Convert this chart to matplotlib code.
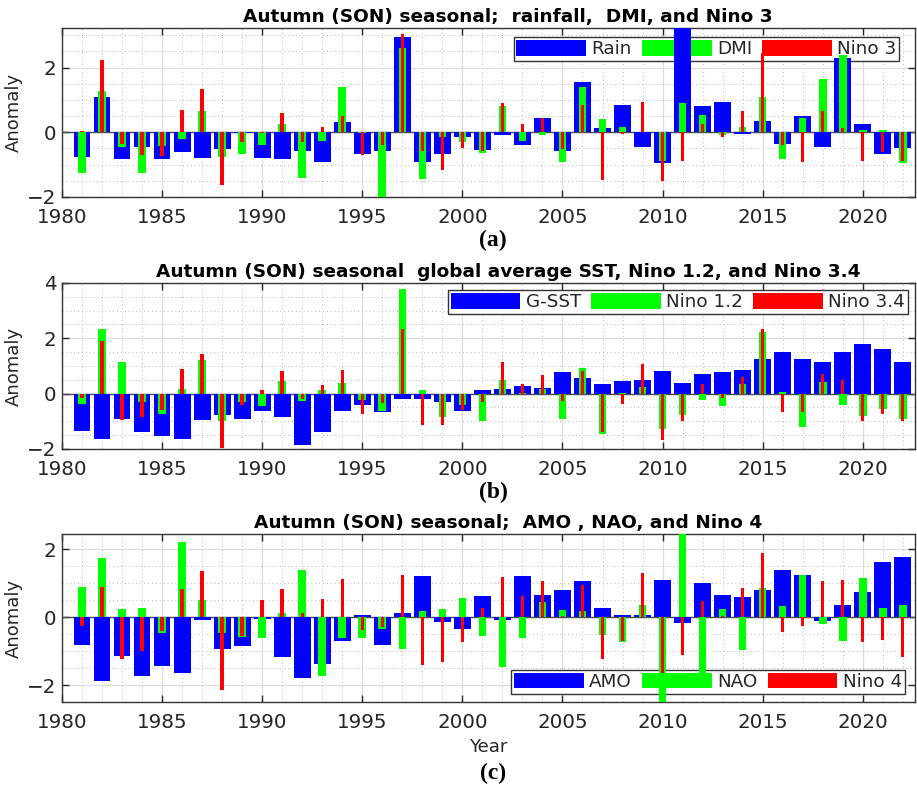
import matplotlib

matplotlib.use("Agg")
import matplotlib.pyplot as plt
from matplotlib.ticker import MultipleLocator

years = list(range(1981, 2023))

# panel (a)
rain = [-0.76, 1.09, -0.84, -0.47, -0.84, -0.60, -0.80, -0.52, -0.02, -0.80,
        -0.84, -0.57, -0.92, 0.33, -0.68, -0.57, 2.95, -0.92, -0.66, -0.16,
        -0.54, -0.08, -0.39, 0.44, -0.57, 1.55, 0.13, 0.85, -0.47, -0.96,
        3.50, 0.81, 0.93, -0.05, 0.36, -0.36, 0.50, -0.45, 2.29, 0.26,
        -0.68, -0.49]
dmi = [-1.25, 1.28, -0.45, -1.27, -0.43, -0.21, 0.65, -0.78, -0.68, -0.39,
       0.26, -1.41, -0.26, 1.41, -0.03, -2.10, 2.60, -1.44, -0.16, -0.31,
       -0.63, 0.81, -0.26, -0.07, -0.92, 1.41, 0.41, 0.16, 0.02, -0.89,
       0.89, 0.54, -0.10, 0.16, 1.09, -0.84, 0.44, 1.66, 2.38, 0.08,
       0.08, -0.94]
nino3 = [0.05, 2.24, -0.36, -0.71, -0.73, 0.68, 1.34, -1.64, -0.31, -0.03,
         0.61, -0.31, 0.16, 0.51, -0.71, -0.39, 3.02, -0.59, -1.17, -0.49,
         -0.57, 0.89, 0.26, 0.44, -0.52, 0.85, -1.48, -0.05, 0.93, -1.51,
         -0.89, 0.24, -0.16, 0.65, 2.45, -0.39, -0.92, 0.65, 0.13, -0.89,
         -0.60, -0.89]

# panel (b)
gsst = [-1.36, -1.64, -0.92, -1.40, -1.52, -1.64, -0.96, -0.79, -0.92, -0.64,
        -0.84, -1.84, -1.40, -0.64, -0.40, -0.67, -0.18, -0.18, -0.30, -0.64,
        0.12, 0.18, 0.26, 0.22, 0.77, 0.56, 0.36, 0.44, 0.48, 0.80,
        0.40, 0.72, 0.77, 0.84, 1.25, 1.49, 1.25, 1.13, 1.52, 1.80,
        1.61, 1.16]
nino12 = [-0.38, 2.33, 1.16, -0.30, -0.74, 0.16, 1.20, -1.00, -0.30, -0.46,
          0.44, -0.26, 0.12, 0.40, -0.24, -0.64, 3.77, 0.12, -0.84, -0.42,
          -1.00, 0.48, 0.03, 0.18, -0.91, 0.92, -1.46, 0.04, 0.24, -1.26,
          -0.76, -0.24, -0.43, 0.36, 2.21, 0.06, -1.20, 0.41, -0.40, -0.80,
          -0.56, -0.92]
nino34 = [-0.14, 1.90, -0.96, -0.84, -0.60, 0.89, 1.44, -1.96, -0.40, 0.12,
          0.80, -0.18, 0.32, 0.84, -0.74, -0.34, 2.33, -1.14, -1.14, -0.58,
          -0.30, 1.16, 0.36, 0.68, -0.26, 0.80, -1.38, -0.36, 1.08, -1.68,
          -1.00, 0.36, -0.16, 0.60, 2.33, -0.68, -0.68, 0.72, 0.48, -1.00,
          -0.74, -1.00]

# panel (c)
amo = [-0.83, -1.89, -1.13, -1.72, -1.45, -1.65, -0.08, -0.93, -0.86, -0.05,
       -1.16, -1.79, -1.38, -0.70, 0.07, -0.83, 0.12, 1.22, -0.15, -0.34,
       0.63, -0.08, 1.22, 0.66, 0.80, 1.06, 0.26, 0.07, 0.07, 1.09,
       -0.18, 1.00, 0.66, 0.59, 0.80, 1.39, 1.25, -0.11, 0.36, 0.73,
       1.62, 1.77]
nao = [0.88, 1.74, 0.25, 0.26, -0.47, 2.21, 0.51, -0.47, -0.59, -0.60,
       0.12, 1.39, -1.72, -0.60, -0.60, -0.34, -0.93, 0.17, 0.25, 0.56,
       -0.57, -1.48, -0.60, 0.46, 0.20, 0.17, -0.54, -0.74, 0.36, -2.60,
       2.60, -1.70, 0.24, -0.96, 0.85, 0.33, 1.25, -0.21, -0.70, 1.16,
       0.26, 0.36]
nino4 = [-0.25, 0.88, -1.23, -0.99, -0.40, 0.82, 1.35, -2.16, -0.55, 0.51,
         0.82, 0.12, 0.53, 1.13, -0.37, -0.30, 1.25, -1.42, -1.32, -0.74,
         0.28, 1.17, 0.63, 1.06, 0.04, 0.95, -1.23, -0.70, 1.31, -1.65,
         -1.11, 0.48, 0.04, 0.85, 1.88, -0.44, -0.25, 1.06, 1.10, -0.74,
         -0.67, -1.16]

panels = [
    ("Autumn (SON) seasonal;  rainfall,  DMI, and Nino 3",
     [rain, dmi, nino3], ["Rain", "DMI", "Nino 3"], (-2, 3.22), 2, "(a)"),
    ("Autumn (SON) seasonal  global average SST, Nino 1.2, and Nino 3.4",
     [gsst, nino12, nino34], ["G-SST", "Nino 1.2", "Nino 3.4"], (-2, 4), 2, "(b)"),
    ("Autumn (SON) seasonal;  AMO , NAO, and Nino 4",
     [amo, nao, nino4], ["AMO", "NAO", "Nino 4"], (-2.5, 2.45), 2, "(c)"),
]

colors = ["#0000ff", "#00ff00", "#ff0000"]
widths = [0.84, 0.38, 0.17]
axes_rects = [
    [0.0676, 0.7497, 0.930, 0.2147],
    [0.0676, 0.4295, 0.930, 0.2110],
    [0.0676, 0.1080, 0.930, 0.2135],
]
legend_anchor = [(0.982, 0.945, "upper right"),
                 (0.992, 0.955, "upper right"),
                 (0.988, 0.05, "lower right")]
label_y = [240, 492, 773]

fig = plt.figure(figsize=(9.17, 7.87), dpi=100)
tick_color = "#262626"

for i, (title, series, names, ylim, ystep, tag) in enumerate(panels):
    ax = fig.add_axes(axes_rects[i])
    ax.set_axisbelow(True)
    handles = []
    for k, values in enumerate(series):
        h = ax.bar(years, values, width=widths[k], color=colors[k],
                   zorder=3 + k, linewidth=0)
        handles.append(h)
    ax.axhline(0, color="#4d4d4d", lw=1.0, zorder=2.8)

    ax.set_xlim(1980, 2022.6)
    ax.set_ylim(*ylim)
    ax.xaxis.set_major_locator(MultipleLocator(5))
    ax.xaxis.set_minor_locator(MultipleLocator(1))
    ax.yaxis.set_major_locator(MultipleLocator(ystep))
    ax.yaxis.set_minor_locator(MultipleLocator(0.5))
    ax.grid(which="major", color="#dcdcdc", lw=0.9, ls="-")
    ax.grid(which="minor", color="#b5b5b5", lw=0.7, ls=(0, (1, 3)))
    ax.tick_params(which="major", direction="in", top=True, right=True,
                   length=5, width=1, colors=tick_color, labelsize=14.3,
                   labelcolor=tick_color)
    ax.tick_params(axis="x", which="major", pad=8)
    ax.tick_params(axis="y", which="major", pad=4)
    ax.tick_params(which="minor", length=0)
    for s in ax.spines.values():
        s.set_color("#333333")
        s.set_linewidth(1.0)

    ax.set_ylabel("Anomaly", fontsize=13, color=tick_color, labelpad=3)
    ax.set_title(title, fontsize=13.3, fontweight="bold", x=0.523, pad=4)

    bx, by, loc = legend_anchor[i]
    leg = ax.legend(handles, names, ncol=3, loc=loc, bbox_to_anchor=(bx, by),
                    fontsize=13.2, handlelength=3.8, handleheight=0.95,
                    handletextpad=0.3, columnspacing=0.55, borderpad=0.15,
                    borderaxespad=0, fancybox=False, framealpha=1,
                    edgecolor="#333333")
    leg.get_frame().set_linewidth(1.0)
    for t in leg.get_texts():
        t.set_color(tick_color)
    leg.set_zorder(2.5)

    if i == 2:
        ax.set_xlabel("Year", fontsize=13, color=tick_color, labelpad=4)

    fig.text(493 / 917, 1 - label_y[i] / 787, tag, ha="center", va="center",
             fontsize=17, fontweight="bold", family="Liberation Serif")

fig.savefig("out.png", dpi=100)
